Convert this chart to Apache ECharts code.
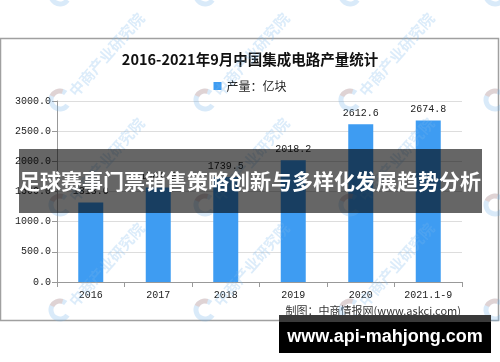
<!DOCTYPE html>
<html><head><meta charset="utf-8">
<script src="https://cdn.jsdelivr.net/npm/echarts@6/dist/echarts.min.js"></script>
<style>html,body{margin:0;padding:0;background:#fff}#c{width:500px;height:362px}</style>
</head><body><div id="c"></div>
<script>
const categories = ['2016', '2017', '2018', '2019', '2020', '2021.1-9'];
const values = [1318.0, 1564.9, 1739.5, 2018.2, 2612.6, 2674.8];
const yMin = 0, yMax = 3000, yStep = 500;
const titleText = '2016-2021年9月中国集成电路产量统计';
const seriesName = '产量：亿块';
const bannerText = '足球赛事门票销售策略创新与多样化发展趋势分析';
const footerText = 'www.api-mahjong.com';
const sourceText = '制图：中商情报网(www.askci.com)';
const watermarkText = '中商产业研究院';

const mono = '"Liberation Mono", "DejaVu Sans Mono", monospace';
const cjk = '"Noto Sans CJK SC", sans-serif';

const chart = echarts.init(document.getElementById('c'), null, {renderer: 'canvas'});

// watermark decorations
const wm = [];
for (let j = 0; j < 4; j++) {
  for (let i = 0; i < 4; i++) {
    const x = 60 + 145 * i, y = -5 + 105 * j;
    wm.push({type: 'arc', shape: {cx: x, cy: y, r: 9, startAngle: 0.6, endAngle: 5.4},
      style: {stroke: 'rgba(120,180,235,0.28)', lineWidth: 5, fill: null}, z: 50, silent: true});
    wm.push({type: 'arc', shape: {cx: x, cy: y, r: 9, startAngle: 3.6, endAngle: 5.0},
      style: {stroke: 'rgba(240,150,120,0.28)', lineWidth: 5, fill: null}, z: 51, silent: true});
    wm.push({type: 'text', x: x + 12, y: y - 6, rotation: 0.85,
      style: {text: watermarkText, fill: 'rgba(120,180,235,0.26)', font: 'bold 15px ' + cjk,
        textAlign: 'left', textVerticalAlign: 'middle'}, z: 50, silent: true});
  }
}

const option = {
  animation: false,
  backgroundColor: '#fff',
  title: {
    text: titleText, left: 'center', top: 47,
    textStyle: {fontFamily: cjk, fontSize: 14.5, fontWeight: 'bold', color: '#111'}
  },
  legend: {
    top: 75, left: 'center', itemWidth: 8, itemHeight: 8, icon: 'rect',
    textStyle: {fontFamily: cjk, fontSize: 12, color: '#222'},
    data: [seriesName]
  },
  grid: {left: 57, right: 38, top: 101, bottom: 80, containLabel: false},
  xAxis: {
    type: 'category', data: categories,
    axisLine: {lineStyle: {color: '#999'}},
    axisTick: {show: true, alignWithLabel: false, length: 5, lineStyle: {color: '#999'}},
    axisLabel: {fontFamily: mono, fontSize: 10, color: '#222', margin: 8}
  },
  yAxis: {
    type: 'value', min: yMin, max: yMax, interval: yStep,
    axisLine: {show: true, lineStyle: {color: '#999'}},
    axisTick: {show: true, length: 5, lineStyle: {color: '#999'}},
    axisLabel: {fontFamily: mono, fontSize: 10, color: '#222', margin: 6,
      formatter: v => v.toFixed(1)},
    splitLine: {lineStyle: {color: '#ddd'}}
  },
  series: [{
    name: seriesName, type: 'bar', data: values, barWidth: 25,
    itemStyle: {color: '#3e9cf2'},
    label: {show: true, position: 'top', distance: 6, fontFamily: mono, fontSize: 10, color: '#222',
      formatter: p => p.value.toFixed(1)}
  }],
  graphic: [
    {type: 'rect', shape: {x: 0.5, y: 38.5, width: 498, height: 282}, style: {stroke: '#a0a0a0', lineWidth: 1.5, fill: null}, z: 1, silent: true},
    {type: 'text', x: 461, y: 311, style: {text: sourceText, font: '11px ' + cjk, fill: '#333', textAlign: 'right', textVerticalAlign: 'middle'}, z: 10},
    ...wm,
    {type: 'rect', shape: {x: 19, y: 149, width: 463, height: 64}, style: {fill: 'rgba(0,0,0,0.6)'}, z: 100},
    {type: 'text', x: 250, y: 181, style: {text: bannerText, font: 'bold 21px ' + cjk, fill: '#fff', textAlign: 'center', textVerticalAlign: 'middle'}, z: 101},
    {type: 'rect', shape: {x: 279, y: 315, width: 212, height: 38}, style: {fill: '#000'}, z: 100},
    {type: 'rect', shape: {x: 279, y: 315, width: 212, height: 7}, style: {fill: '#3a3a3a'}, z: 100},
    {type: 'text', x: 385, y: 337, style: {text: footerText, font: 'bold 18px "Liberation Sans", Arial, sans-serif', fill: '#fff', textAlign: 'center', textVerticalAlign: 'middle'}, z: 101}
  ]
};
chart.setOption(option);
</script></body></html>
